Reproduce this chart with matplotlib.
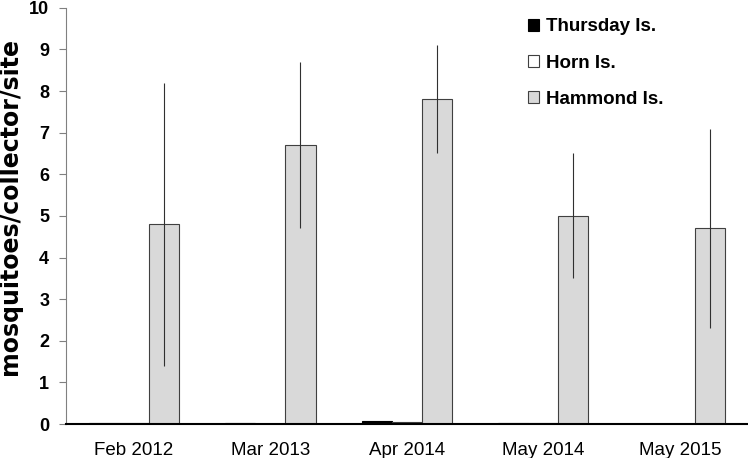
import numpy as np
import matplotlib.pyplot as plt

plt.rcParams['font.family'] = ['Liberation Sans', 'DejaVu Sans']

# 数据
dates = ['Feb 2012', 'Mar 2013', 'Apr 2014', 'May 2014', 'May 2015']
thursday = [0.02, 0.02, 0.08, 0.02, 0.0]
horn = [0.02, 0.0, 0.04, 0.02, 0.0]
hammond = [4.8, 6.7, 7.8, 5.0, 4.7]
hammond_err = [3.4, 2.0, 1.3, 1.5, 2.4]

x = np.arange(len(dates))
w = 0.22

fig = plt.figure(figsize=(7.48, 4.58), dpi=100)
ax = fig.add_axes([0.088, 0.074, 0.912, 0.909])

ax.bar(x - w, thursday, w, color='black', edgecolor='black', linewidth=0.8, label='Thursday Is.')
ax.bar(x, horn, w, color='white', edgecolor='#404040', linewidth=0.8, label='Horn Is.')
ax.bar(x + w, hammond, w, color='#d9d9d9', edgecolor='#404040', linewidth=0.8,
       yerr=hammond_err, error_kw=dict(ecolor='#303030', elinewidth=0.8, capsize=0),
       label='Hammond Is.')

ax.set_xlim(-0.5, 4.5)
ax.set_ylim(0, 10)
ax.set_yticks(range(0, 11))
ax.set_xticks(x)
ax.set_xticklabels(dates, fontsize=13.5)
ax.tick_params(axis='x', length=0, pad=13)
ax.tick_params(axis='y', length=5, color='#808080', labelsize=13, pad=7)
for t in ax.get_yticklabels():
    t.set_fontweight('bold')

# y轴标题（原图被横向拉伸，用较宽的字体近似）
fig.text(0.014, 0.55, 'mosquitoes/collector/site', rotation=90, ha='center', va='center',
         fontsize=17, fontweight='bold', family='DejaVu Sans')

ax.spines['top'].set_visible(False)
ax.spines['right'].set_visible(False)
ax.spines['left'].set_color('#808080')
ax.spines['bottom'].set_color('black')
ax.spines['bottom'].set_linewidth(1.5)

leg = ax.legend(loc='upper left', bbox_to_anchor=(0.653, 1.015), frameon=False,
                prop={'weight': 'bold', 'size': 13.5}, handlelength=0.6, handleheight=0.6,
                handletextpad=0.35, labelspacing=1.02)

fig.savefig('out.png', dpi=100)
